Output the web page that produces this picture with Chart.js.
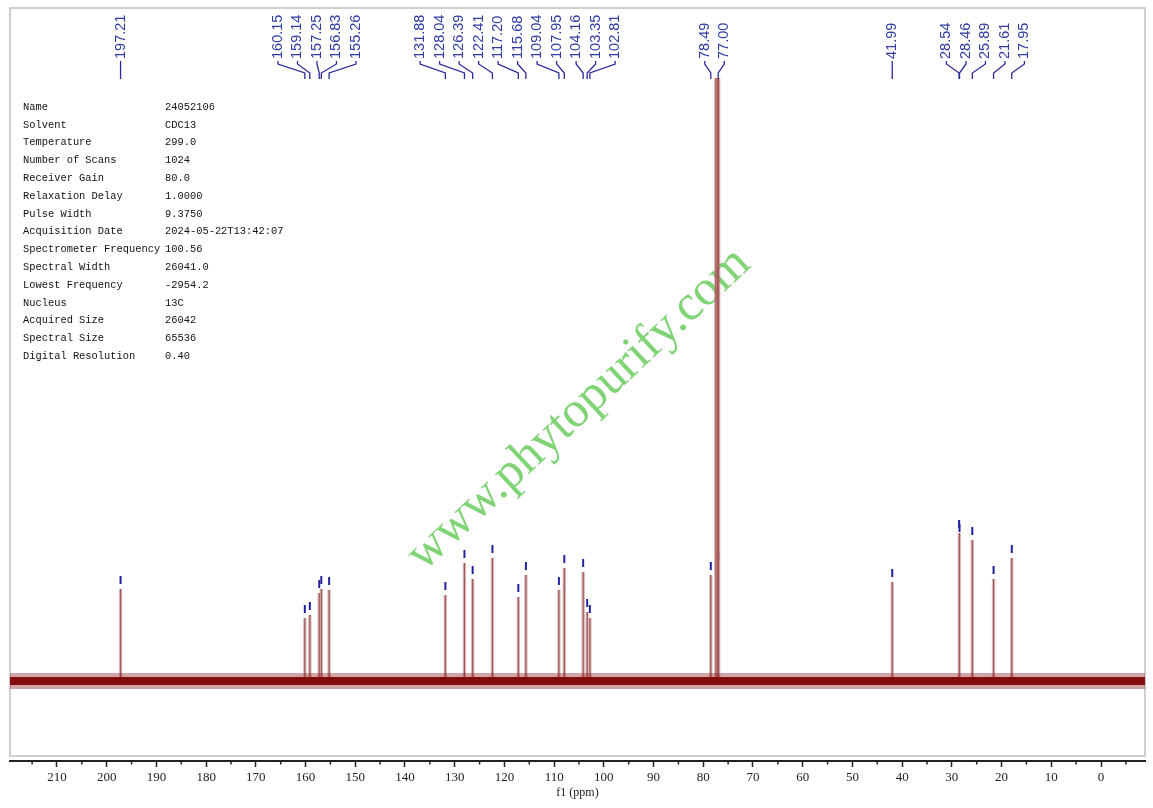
<!DOCTYPE html>
<html>
<head>
<meta charset="utf-8">
<script src="https://cdn.jsdelivr.net/npm/chart.js@4.4.1/dist/chart.umd.min.js"></script>
<style>
  html, body { margin: 0; padding: 0; background: #fff; }
  #wrap { width: 1153px; height: 808px; }
</style>
</head>
<body>
<div id="wrap"><canvas id="nmrChart"></canvas></div>
<script>
// picked peaks (ppm, high to low) and their heights above the baseline
var peakPpm = [197.21, 160.15, 159.14, 157.25, 156.83, 155.26, 131.88, 128.04, 126.39, 122.41,
               117.20, 115.68, 109.04, 107.95, 104.16, 103.35, 102.81, 78.49, 77.00, 41.99,
               28.54, 28.46, 25.89, 21.61, 17.95];
var peakHeight = [92, 63, 66, 88, 92, 91, 86, 118, 102, 123,
                  84, 106, 91, 113, 109, 69, 63, 106, 116, 99,
                  148, 144, 141, 102, 123];
// CDCl3 triplet (not labelled)
var solventPpm = [77.48, 77.16, 76.84];
var solventHeight = [603, 603, 603];

var ppmMax = 219.45, ppmMin = -8.85;

var paramNames = ['Name', 'Solvent', 'Temperature', 'Number of Scans', 'Receiver Gain',
  'Relaxation Delay', 'Pulse Width', 'Acquisition Date', 'Spectrometer Frequency',
  'Spectral Width', 'Lowest Frequency', 'Nucleus', 'Acquired Size', 'Spectral Size',
  'Digital Resolution'];
var paramValues = ['24052106', 'CDC13', '299.0', '1024', '80.0', '1.0000', '9.3750',
  '2024-05-22T13:42:07', '100.56', '26041.0', '-2954.2', '13C', '26042', '65536', '0.40'];

var watermark = 'www.phytopurify.com';

// stick spectrum built from the peak lists
var allPeaks = peakPpm.map(function (p, i) { return {x: p, h: peakHeight[i]}; })
  .concat(solventPpm.map(function (p, i) { return {x: p, h: solventHeight[i]}; }))
  .sort(function (a, b) { return b.x - a.x; });
var sticks = [{x: ppmMax, y: 0}];
allPeaks.forEach(function (pk) {
  sticks.push({x: pk.x, y: 0}, {x: pk.x, y: pk.h}, {x: pk.x, y: 0});
});
sticks.push({x: ppmMin, y: 0});

var markers = peakPpm.map(function (p, i) { return {x: p, y: peakHeight[i] + 9}; });

// spread labels so they don't overlap, centred on their peak cluster
function layoutLabels(xs, gap) {
  var groups = xs.map(function (x, i) { return {idx: [i], lo: x, hi: x}; });
  function start(g) { return (g.lo + g.hi) / 2 - (g.idx.length - 1) * gap / 2; }
  var changed = true;
  while (changed) {
    changed = false;
    for (var i = 0; i < groups.length - 1; i++) {
      var a = groups[i], b = groups[i + 1];
      var aEnd = start(a) + (a.idx.length - 1) * gap;
      if (start(b) - aEnd < gap) {
        groups.splice(i, 2, {idx: a.idx.concat(b.idx), lo: a.lo, hi: b.hi});
        changed = true;
        break;
      }
    }
  }
  var out = [];
  groups.forEach(function (g) {
    var s = start(g);
    g.idx.forEach(function (k, j) { out[k] = s + j * gap; });
  });
  return out;
}

var decor = {
  id: 'decor',
  beforeDatasetsDraw: function (chart) {
    var ctx = chart.ctx;
    ctx.save();
    ctx.strokeStyle = '#cfcfcf';
    ctx.lineWidth = 2;
    ctx.strokeRect(10, 8, 1135, 748);
    // watermark
    ctx.translate(588, 419);
    ctx.rotate(-43 * Math.PI / 180);
    ctx.fillStyle = 'rgb(128,212,118)';
    ctx.font = '50px "Liberation Serif"';
    ctx.textAlign = 'center';
    ctx.textBaseline = 'alphabetic';
    ctx.fillText(watermark, 0, 0);
    ctx.restore();
  },
  afterDraw: function (chart) {
    var ctx = chart.ctx, xs = chart.scales.x, area = chart.chartArea;
    ctx.save();
    // minor ticks
    ctx.strokeStyle = '#222';
    ctx.lineWidth = 1.5;
    xs.ticks.forEach(function (t) {
      if (t.value % 10 !== 0) {
        var px = xs.getPixelForValue(t.value);
        ctx.beginPath();
        ctx.moveTo(px, area.bottom);
        ctx.lineTo(px, area.bottom + 3.5);
        ctx.stroke();
      }
    });
    // peak labels with connectors
    var peakX = peakPpm.map(function (p) { return xs.getPixelForValue(p); });
    var labelX = layoutLabels(peakX, 19.5);
    ctx.strokeStyle = '#2a2a9c';
    ctx.lineWidth = 1.3;
    peakPpm.forEach(function (p, i) {
      var lx = labelX[i], px = peakX[i];
      ctx.beginPath();
      ctx.moveTo(lx, 61);
      ctx.lineTo(lx, 64);
      ctx.lineTo(px, 73);
      ctx.lineTo(px, 79);
      ctx.stroke();
      ctx.save();
      ctx.translate(lx, 59);
      ctx.rotate(-Math.PI / 2);
      ctx.fillStyle = '#2f3ca6';
      ctx.font = '14.5px "Liberation Sans"';
      ctx.textAlign = 'left';
      ctx.textBaseline = 'middle';
      ctx.fillText(p.toFixed(2), 0, 0);
      ctx.restore();
    });
    // acquisition parameters
    ctx.fillStyle = '#111';
    ctx.font = '10.4px "Liberation Mono"';
    ctx.textBaseline = 'middle';
    ctx.textAlign = 'left';
    paramNames.forEach(function (n, i) {
      var y = 107 + i * 17.8;
      ctx.fillText(n, 23, y);
      ctx.fillText(paramValues[i], 165, y);
    });
    ctx.restore();
  }
};

var ctxNmr = document.getElementById('nmrChart');
var nmrChart = new Chart(ctxNmr, {
  type: 'scatter',
  data: {
    datasets: [
      { // noise band (soft edge)
        data: [{x: ppmMax, y: 0}, {x: ppmMin, y: 0}],
        showLine: true, pointRadius: 0,
        borderColor: 'rgba(140,30,30,0.4)', borderWidth: 16
      },
      { // noise band (core)
        data: [{x: ppmMax, y: 0}, {x: ppmMin, y: 0}],
        showLine: true, pointRadius: 0,
        borderColor: '#7d0000', borderWidth: 8
      },
      { // peak halo
        data: sticks,
        showLine: true, pointRadius: 0, tension: 0,
        borderColor: 'rgba(185,140,140,0.6)', borderWidth: 3.4
      },
      { // peaks
        data: sticks,
        showLine: true, pointRadius: 0, tension: 0,
        borderColor: '#8b0000', borderWidth: 1.2
      },
      { // peak-pick markers
        data: markers,
        showLine: false,
        pointStyle: 'line', rotation: 90, pointRadius: 4,
        pointBorderWidth: 2, pointBorderColor: '#2020a0', pointBackgroundColor: '#2020a0'
      }
    ]
  },
  options: {
    responsive: true,
    maintainAspectRatio: false,
    animation: false,
    events: [],
    layout: { padding: { left: 10, right: 8, top: 8, bottom: 0 } },
    plugins: { legend: { display: false }, tooltip: { enabled: false } },
    scales: {
      x: {
        type: 'linear',
        reverse: true,
        min: ppmMin,
        max: ppmMax,
        afterFit: function (s) { s.height = 47; },
        border: { display: true, color: '#222', width: 2 },
        grid: {
          display: true, drawOnChartArea: false, drawTicks: true, tickLength: 6, tickWidth: 1.5,
          tickColor: function (c) { return c.tick && c.tick.value % 10 === 0 ? '#222' : 'rgba(0,0,0,0)'; }
        },
        ticks: {
          stepSize: 5,
          includeBounds: false,
          autoSkip: false,
          maxRotation: 0,
          padding: 3,
          color: '#222',
          font: { family: 'Liberation Serif', size: 13 },
          callback: function (v) { return v % 10 === 0 ? String(v) : ''; }
        },
        title: {
          display: true, text: 'f1 (ppm)', color: '#222',
          font: { family: 'Liberation Serif', size: 12 },
          padding: { top: 0, bottom: 8 }
        }
      },
      y: { display: false, min: -80, max: 673 }
    }
  },
  plugins: [decor]
});
</script>
</body>
</html>
